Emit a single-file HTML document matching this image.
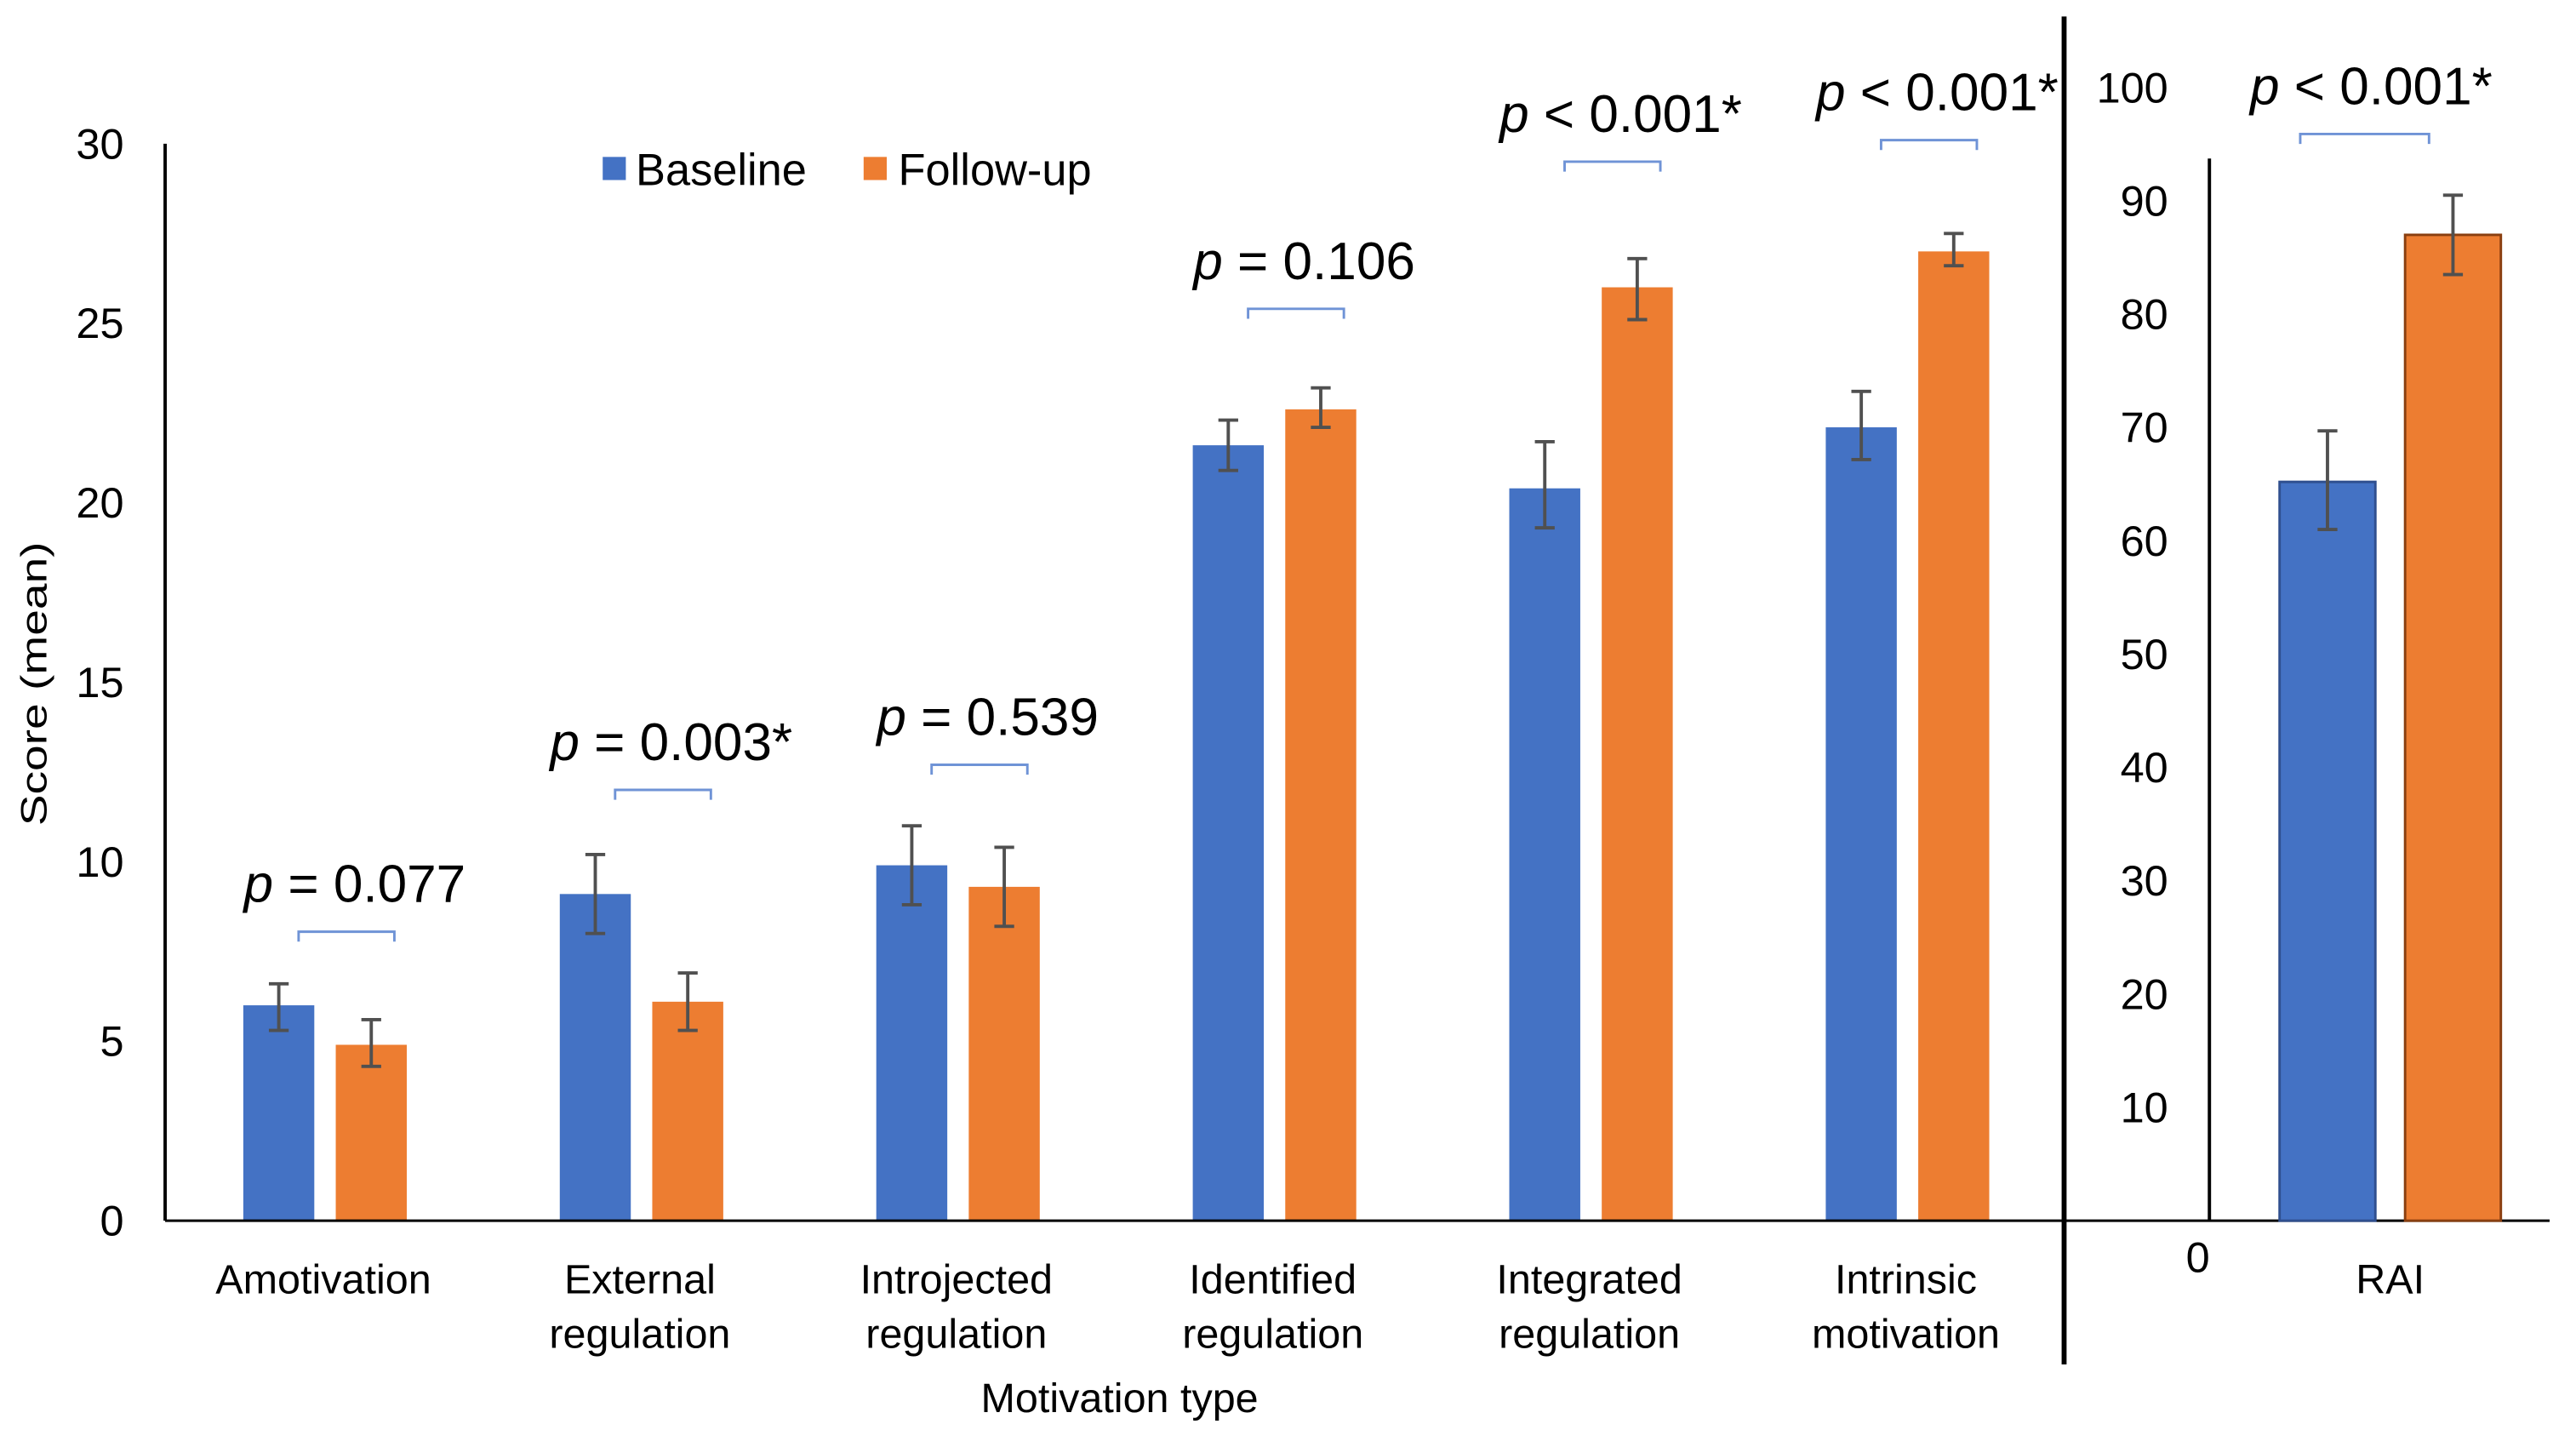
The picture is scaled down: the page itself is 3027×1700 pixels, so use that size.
<!DOCTYPE html>
<html><head><meta charset="utf-8">
<style>
html,body{margin:0;padding:0;background:#fff;}
svg{display:block;}
text{font-family:"Liberation Sans",Arial,sans-serif;fill:#000;}
</style></head>
<body>
<svg id="chart" width="3027" height="1700" viewBox="0 0 1560 876" preserveAspectRatio="none" xmlns="http://www.w3.org/2000/svg">
  <g id="left"></g>
  <g id="right"></g>
</svg>
<script>
const categories = [["Amotivation"],["External","regulation"],["Introjected","regulation"],["Identified","regulation"],["Integrated","regulation"],["Intrinsic","motivation"]];
const baseline = [6.0, 9.1, 9.9, 21.6, 20.4, 22.1];
const baselineLo = [5.3, 8.0, 8.8, 20.9, 19.3, 21.2];
const baselineHi = [6.6, 10.2, 11.0, 22.3, 21.7, 23.1];
const followup = [4.9, 6.1, 9.3, 22.6, 26.0, 27.0];
const followupLo = [4.3, 5.3, 8.2, 22.1, 25.1, 26.6];
const followupHi = [5.6, 6.9, 10.4, 23.2, 26.8, 27.5];
const pLabels = ["= 0.077","= 0.003*","= 0.539","= 0.106","< 0.001*","< 0.001*"];
const bracketLevel = [8.05, 12.0, 12.7, 25.4, 29.5, 30.1];
const leftTicks = [0,5,10,15,20,25,30];
const raiCategory = "RAI";
const raiBaseline = [65.2];
const raiBaselineLo = [61.0];
const raiBaselineHi = [69.7];
const raiFollowup = [87.0];
const raiFollowupLo = [83.5];
const raiFollowupHi = [90.5];
const raiP = ["< 0.001*"];
const raiBracketLevel = [95.9];
const rightTicks = [10,20,30,40,50,60,70,80,90,100];

const NS="http://www.w3.org/2000/svg";
function mk(tag, attrs, parent){const e=document.createElementNS(NS,tag);for(const k in attrs)e.setAttribute(k,attrs[k]);parent.appendChild(e);return e;}
const L=document.getElementById('left'), R=document.getElementById('right');
const BLUE="#4472C4", ORANGE="#ED7D31";

const lx0=100, lx1=1250, ly0=739, ly30=87;
const ly=v=>ly0-(v/30)*(ly0-ly30);
const band=(lx1-lx0)/categories.length;
const cx=i=>lx0+band*(i+0.5);
const bw=43;

leftTicks.forEach(t=>{
  const tx=mk('text',{x:75,y:ly(t)+9,'text-anchor':'end','font-size':26},L);
  tx.textContent=t;
  
  
});
let t=mk('text',{x:0,y:0,'text-anchor':'middle','font-size':22,transform:'translate(28,414) rotate(-90)',textLength:172,lengthAdjust:'spacingAndGlyphs'},L);
t.textContent="Score (mean)";



function errbar(g,x,lo,hi,yf){
  const e=mk('g',{stroke:'#505050','stroke-width':2},g);
  
  
  mk('line',{x1:x,x2:x,y1:yf(lo),y2:yf(hi)},e);
  mk('line',{x1:x-6,x2:x+6,y1:yf(lo),y2:yf(lo)},e);
  mk('line',{x1:x-6,x2:x+6,y1:yf(hi),y2:yf(hi)},e);
}
function ptext(g,x,y,s){
  const tx=mk('text',{x:x,y:y,'text-anchor':'middle','font-size':32},g);
  const a=mk('tspan',{'font-style':'italic'},tx);a.textContent="p";
  const b=mk('tspan',{},tx);b.textContent=" "+s;
  
  
}
function bracket(g,x1,x2,y){
  const p=mk('path',{d:`M${x1},${y+6}V${y}H${x2}V${y+6}`,fill:'none',stroke:'#6F93D6','stroke-width':1.5},g);
  
  
}

categories.forEach((c,i)=>{
  const bx=cx(i)-27, ox=cx(i)+29;
  let r=mk('rect',{x:bx-bw/2,y:ly(baseline[i]),width:bw,height:ly0-ly(baseline[i]),fill:BLUE},L);
  
  
  r=mk('rect',{x:ox-bw/2,y:ly(followup[i]),width:bw,height:ly0-ly(followup[i]),fill:ORANGE},L);
  
  
  errbar(L,bx,baselineLo[i],baselineHi[i],ly);
  errbar(L,ox,followupLo[i],followupHi[i],ly);
  const by=ly(bracketLevel[i]);
  bracket(L,cx(i)-15,cx(i)+43,by);
  ptext(L,cx(i)+19,by-18,pLabels[i]);
  c.forEach((line,k)=>{
    const tx=mk('text',{x:cx(i),y:783+k*33,'text-anchor':'middle','font-size':25},L);
    tx.textContent=line;
    
    
  });
});
mk('line',{x1:lx0,x2:lx0,y1:ly30,y2:ly0,stroke:'#000','stroke-width':2},L);
mk('line',{x1:lx0,x2:lx1,y1:ly0,y2:ly0,stroke:'#000','stroke-width':1.5},L);
t=mk('text',{x:678,y:855,'text-anchor':'middle','font-size':25},L);
t.textContent="Motivation type";



const lg=mk('g',{},L);


mk('rect',{x:365,y:95,width:14,height:14,fill:BLUE},lg);
t=mk('text',{x:385,y:112,'font-size':27},lg);t.textContent="Baseline";
mk('rect',{x:523,y:95,width:14,height:14,fill:ORANGE},lg);
t=mk('text',{x:544,y:112,'font-size':27},lg);t.textContent="Follow-up";

mk('line',{x1:1250,x2:1250,y1:10,y2:826,stroke:'#000','stroke-width':3},R);

const ry0=739, rax=1338, rScale=6.86;
const ry=v=>ry0-v*rScale;
rightTicks.forEach(tk=>{
  const tx=mk('text',{x:1313,y:ry(tk)+9,'text-anchor':'end','font-size':26},R);
  tx.textContent=tk;
  
  
});
t=mk('text',{x:1331,y:770,'text-anchor':'middle','font-size':26},R);t.textContent="0";
mk('line',{x1:rax,x2:rax,y1:96,y2:ry0,stroke:'#000','stroke-width':2},R);
mk('line',{x1:1250,x2:1544,y1:ry0,y2:ry0,stroke:'#000','stroke-width':1.5},R);
const rc=1447.5, rbw=58;
let rb=mk('rect',{x:rc-38-rbw/2,y:ry(raiBaseline[0]),width:rbw,height:ry0-ry(raiBaseline[0]),fill:BLUE,stroke:'#2F4F8F','stroke-width':1.5},R);


rb=mk('rect',{x:rc+38-rbw/2,y:ry(raiFollowup[0]),width:rbw,height:ry0-ry(raiFollowup[0]),fill:ORANGE,stroke:'#8A3F10','stroke-width':1.5},R);


errbar(R,rc-38,raiBaselineLo[0],raiBaselineHi[0],ry);
errbar(R,rc+38,raiFollowupLo[0],raiFollowupHi[0],ry);
const rby=ry(raiBracketLevel[0]);
bracket(R,1393,1471,rby);
ptext(R,1436,rby-18,raiP[0]);
t=mk('text',{x:rc,y:783,'text-anchor':'middle','font-size':25},R);t.textContent=raiCategory;


</script>
</body></html>
